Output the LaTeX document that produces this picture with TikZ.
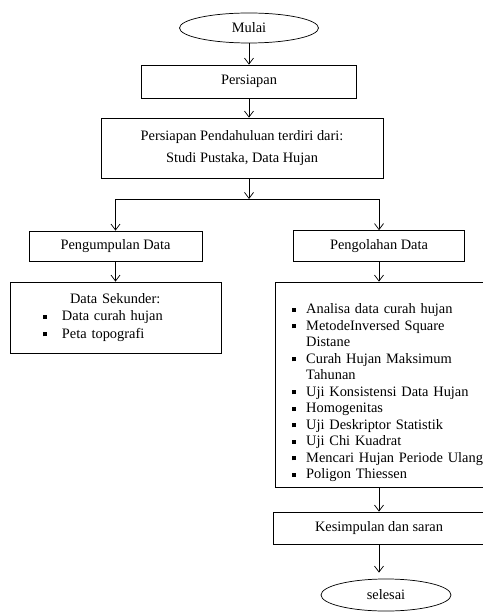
\documentclass[tikz,border=0pt]{standalone}
\usepackage{fontspec}
\setmainfont{Liberation Serif}
\usetikzlibrary{shapes.geometric,arrows.meta}

\newcommand{\sqbul}{\rule[1.5pt]{3.3pt}{3.3pt}}
\newcommand{\butir}[3]{\hspace*{#1}\makebox[#2][l]{\sqbul}#3}

\begin{document}
\begin{tikzpicture}[x=0.8333pt,y=-0.8333pt]
\tikzset{>={Straight Barb[length=5pt,width=7.5pt]}}

\tikzstyle{kotak}=[draw, rectangle, line width=0.6pt, inner sep=0pt, align=center, font=\fontsize{12}{13.75}\selectfont]
\tikzstyle{elips}=[draw, ellipse, line width=0.6pt, inner sep=0pt, font=\fontsize{12}{13.75}\selectfont]
\tikzstyle{panah}=[->, line width=0.6pt]

\useasboundingbox (0,0) rectangle (482,612);

% top column
\node(mulai)[elips, minimum width=115.8pt, minimum height=25pt] at (249,28) {Mulai};
\node(persiapan)[kotak, minimum width=179.2pt, minimum height=27.5pt] at (249,81.5) {Persiapan};
\node(pendahuluan)[kotak, minimum width=235pt, minimum height=50pt] at (242,148) {Persiapan Pendahuluan terdiri dari:\\[4.6pt]Studi Pustaka, Data Hujan};
\coordinate(cabang) at (249,199);

% left column
\node(pengumpulan)[kotak, minimum width=144.2pt, minimum height=25pt] at (115.5,246) {Pengumpulan Data};
\node(sekunder)[kotak, text width=175.8pt, align=left, minimum height=59.2pt, text height=9pt, text depth=33pt] at (115.5,317.5) {\hspace*{50pt}Data Sekunder:\\[0.85pt]
\butir{27.5pt}{15.8pt}{Data curah hujan}\\[0.85pt]
\butir{27.5pt}{15.8pt}{Peta topografi}};

% right column
\node(pengolahan)[kotak, minimum width=142.5pt, minimum height=25.8pt] at (379,246) {Pengolahan Data};
\node(daftar)[kotak, text width=180pt, align=left, minimum height=170.8pt, text height=9pt, text depth=127pt] at (383,384.5) {\butir{14.5pt}{11.5pt}{Analisa data curah hujan}\\
\butir{14.5pt}{11.5pt}{MetodeInversed Square}\\
\hspace*{26pt}Distane\\
\butir{14.5pt}{11.5pt}{Curah Hujan Maksimum}\\
\hspace*{26pt}Tahunan\\
\butir{14.5pt}{11.5pt}{Uji Konsistensi Data Hujan}\\
\butir{14.5pt}{11.5pt}{Homogenitas}\\
\butir{14.5pt}{11.5pt}{Uji Deskriptor Statistik}\\
\butir{14.5pt}{11.5pt}{Uji Chi Kuadrat}\\
\butir{14.5pt}{11.5pt}{Mencari Hujan Periode Ulang}\\
\butir{14.5pt}{11.5pt}{Poligon Thiessen}};
\node(kesimpulan)[kotak, minimum width=176.7pt, minimum height=26.7pt] at (379,528) {Kesimpulan dan saran};
\node(selesai)[elips, minimum width=108.3pt, minimum height=26.7pt] at (386,595) {selesai};

% arrows
\draw[panah] (mulai) -- (persiapan);
\draw[panah] (persiapan.south) -- (persiapan.south |- pendahuluan.north);
\draw[panah] (pendahuluan.south -| cabang) -- (cabang);
\draw (pengumpulan.north |- cabang) -- (pengolahan.north |- cabang);
\draw[panah] (pengumpulan.north |- cabang) -- (pengumpulan);
\draw[panah] (pengolahan.north |- cabang) -- (pengolahan);
\draw[panah] (pengumpulan) -- (sekunder);
\draw[panah] (pengolahan) -- (pengolahan.south |- daftar.north);
\draw[panah] (pengolahan.south |- daftar.south) -- (kesimpulan);
\draw[panah, shorten >=5pt] (kesimpulan.south) -- (kesimpulan.south |- selesai.north);

\end{tikzpicture}
\end{document}
